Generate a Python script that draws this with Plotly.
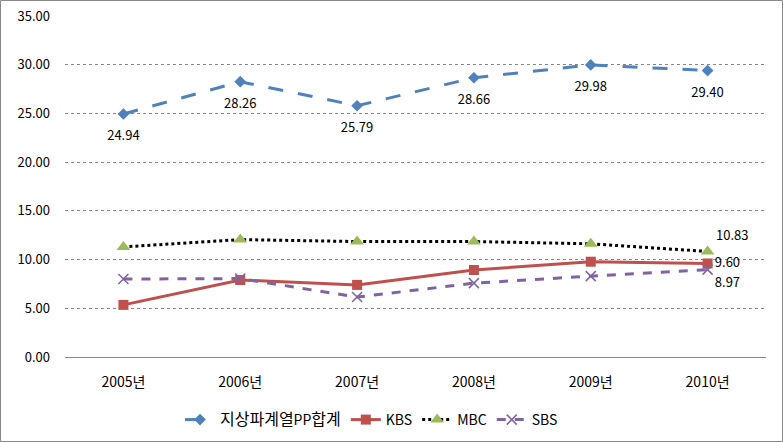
import plotly.graph_objects as go

years = ["2005년", "2006년", "2007년", "2008년", "2009년", "2010년"]
total = [24.94, 28.26, 25.79, 28.66, 29.98, 29.40]
kbs = [5.35, 7.90, 7.40, 8.93, 9.78, 9.60]
mbc = [11.30, 12.05, 11.85, 11.85, 11.62, 10.83]
sbs = [8.00, 8.05, 6.15, 7.58, 8.30, 8.97]
series_names = ["지상파계열PP합계", "KBS", "MBC", "SBS"]

W, H = 783, 442
L, R, T, B = 65, 17, 16, 85
pw, ph = W - L - R, H - T - B

def last_label(vals):
    return ["" for _ in vals[:-1]] + [f"{vals[-1]:.2f}"]

total_name = ("<span style='font-size:16px'>지상파계열</span>PP"
              "<span style='font-size:16px'>합계</span>")

fig = go.Figure()
fig.add_trace(go.Scatter(
    x=years, y=total, name=total_name, mode="lines+markers",
    line=dict(color="#4F81BD", width=3, dash="longdash"),
    marker=dict(symbol="diamond", size=9, color="#4F81BD")))
# data labels for the total series (offset below the points)
fig.add_trace(go.Scatter(
    x=years, y=total, mode="markers+text", showlegend=False, hoverinfo="skip",
    marker=dict(size=25, opacity=0),
    text=[f"{v:.2f}" for v in total], textposition="bottom center",
    textfont=dict(size=13, color="black")))
fig.add_trace(go.Scatter(
    x=years, y=kbs, name=series_names[1], mode="lines+markers+text",
    line=dict(color="#C0504D", width=3),
    marker=dict(symbol="square", size=10, color="#C0504D"),
    text=last_label(kbs), textposition="middle right",
    textfont=dict(size=13, color="black")))
fig.add_trace(go.Scatter(
    x=years, y=mbc, name=series_names[2], mode="lines+markers+text",
    line=dict(color="black", width=3, dash="dot"),
    marker=dict(symbol="triangle-up", size=12, color="#9BBB59"),
    text=last_label(mbc), textposition="top right",
    textfont=dict(size=13, color="black")))
fig.add_trace(go.Scatter(
    x=years, y=sbs, name=series_names[3], mode="lines+markers+text",
    line=dict(color="#8064A2", width=3, dash="dash"),
    marker=dict(symbol="x-thin", size=10, color="#8064A2", line=dict(color="#8064A2", width=1.5)),
    text=last_label(sbs), textposition="bottom right",
    textfont=dict(size=13, color="black")))

fig.update_layout(
    width=W, height=H,
    margin=dict(l=L, r=R, t=T, b=B, autoexpand=False),
    paper_bgcolor="white", plot_bgcolor="white",
    font=dict(family="Noto Sans CJK KR, DejaVu Sans", size=13, color="black"),
    showlegend=True,
    legend=dict(orientation="h", x=(180 - L) / pw, xanchor="left", y=-63 / ph, yanchor="middle",
                font=dict(size=14), itemwidth=30),
    xaxis=dict(range=[-0.5, 5.5], autorange=False, showgrid=False, showline=True,
               linecolor="#888888", linewidth=1, ticks="", tickfont=dict(size=14),
               ticklabelstandoff=12),
    yaxis=dict(range=[0, 35], autorange=False, dtick=5, tickformat=".2f", showgrid=True,
               gridcolor="#888888", griddash="dot", gridwidth=1,
               zeroline=False, showline=False, tickfont=dict(size=13),
               ticklabelstandoff=14),
    shapes=[dict(type="rect", xref="paper", yref="paper",
                 x0=(0.5 - L) / pw, x1=(W - 0.5 - L) / pw,
                 y0=-(H - 0.5 - T - ph) / ph, y1=(ph + T - 0.5) / ph,
                 line=dict(color="#888888", width=1))],
)

fig.write_html("out.html", config={"displayModeBar": False},
               post_script="document.body.style.margin='0';document.body.style.overflow='hidden';")
